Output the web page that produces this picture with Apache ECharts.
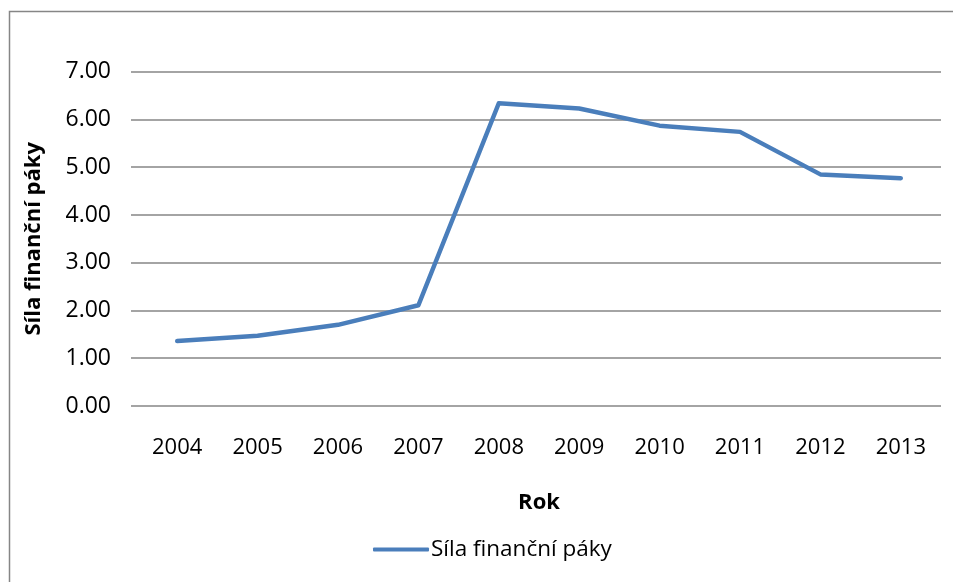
<!DOCTYPE html>
<html>
<head>
<meta charset="utf-8">
<script src="https://cdn.jsdelivr.net/npm/echarts@6/dist/echarts.min.js"></script>
<style>
html,body{margin:0;padding:0;background:#fff;}
#chart{width:953px;height:582px;}
</style>
</head>
<body>
<div id="chart"></div>
<script>
var years = ['2004','2005','2006','2007','2008','2009','2010','2011','2012','2013'];
var leverage = [1.36, 1.47, 1.70, 2.11, 6.34, 6.23, 5.87, 5.74, 4.85, 4.77];
var seriesName = 'Síla finanční páky';
var xTitle = 'Rok';
var yTitle = 'Síla finanční páky';

var FONT = '"Open Sans", sans-serif';
var chart = echarts.init(document.getElementById('chart'));
chart.setOption({
  animation: false,
  backgroundColor: '#fff',
  graphic: [{
    type: 'rect',
    shape: {x: 9.5, y: 11.5, width: 1200, height: 1200},
    style: {fill: 'none', stroke: '#868686', lineWidth: 1.5},
    silent: true
  }],
  grid: {left: 137, right: 12, top: 71.7, bottom: 176, containLabel: false},
  legend: {
    data: [seriesName],
    top: 533,
    left: 368,
    itemWidth: 56,
    itemHeight: 4,
    itemGap: 0,
    icon: 'roundRect',
    textStyle: {fontFamily: FONT, fontSize: 22.5, color: '#000', padding: [0,0,0,-3]}
  },
  xAxis: {
    type: 'category',
    data: years,
    boundaryGap: true,
    name: xTitle,
    nameLocation: 'middle',
    nameGap: 86,
    nameTextStyle: {fontFamily: FONT, fontSize: 22, fontWeight: 'bold', color: '#000'},
    axisLine: {show: false},
    axisTick: {show: false},
    axisLabel: {fontFamily: FONT, fontSize: 22, color: '#000', margin: 31}
  },
  yAxis: {
    type: 'value',
    min: 0, max: 7, interval: 1,
    name: yTitle,
    nameLocation: 'middle',
    nameGap: 92,
    nameTextStyle: {fontFamily: FONT, fontSize: 22, fontWeight: 'bold', color: '#000'},
    axisLine: {show: false},
    axisTick: {show: true, length: 6, lineStyle: {color: '#868686', width: 1.5}},
    axisLabel: {fontFamily: FONT, fontSize: 23, color: '#000', margin: 26,
      formatter: function(v){ return v.toFixed(2); }},
    splitLine: {show: true, lineStyle: {color: '#868686', width: 1.5}}
  },
  series: [{
    name: seriesName,
    type: 'line',
    data: leverage,
    symbol: 'none',
    lineStyle: {color: '#4a7ebb', width: 4.5, cap: 'round', join: 'round'},
    itemStyle: {color: '#4a7ebb'}
  }]
});
</script>
</body>
</html>
